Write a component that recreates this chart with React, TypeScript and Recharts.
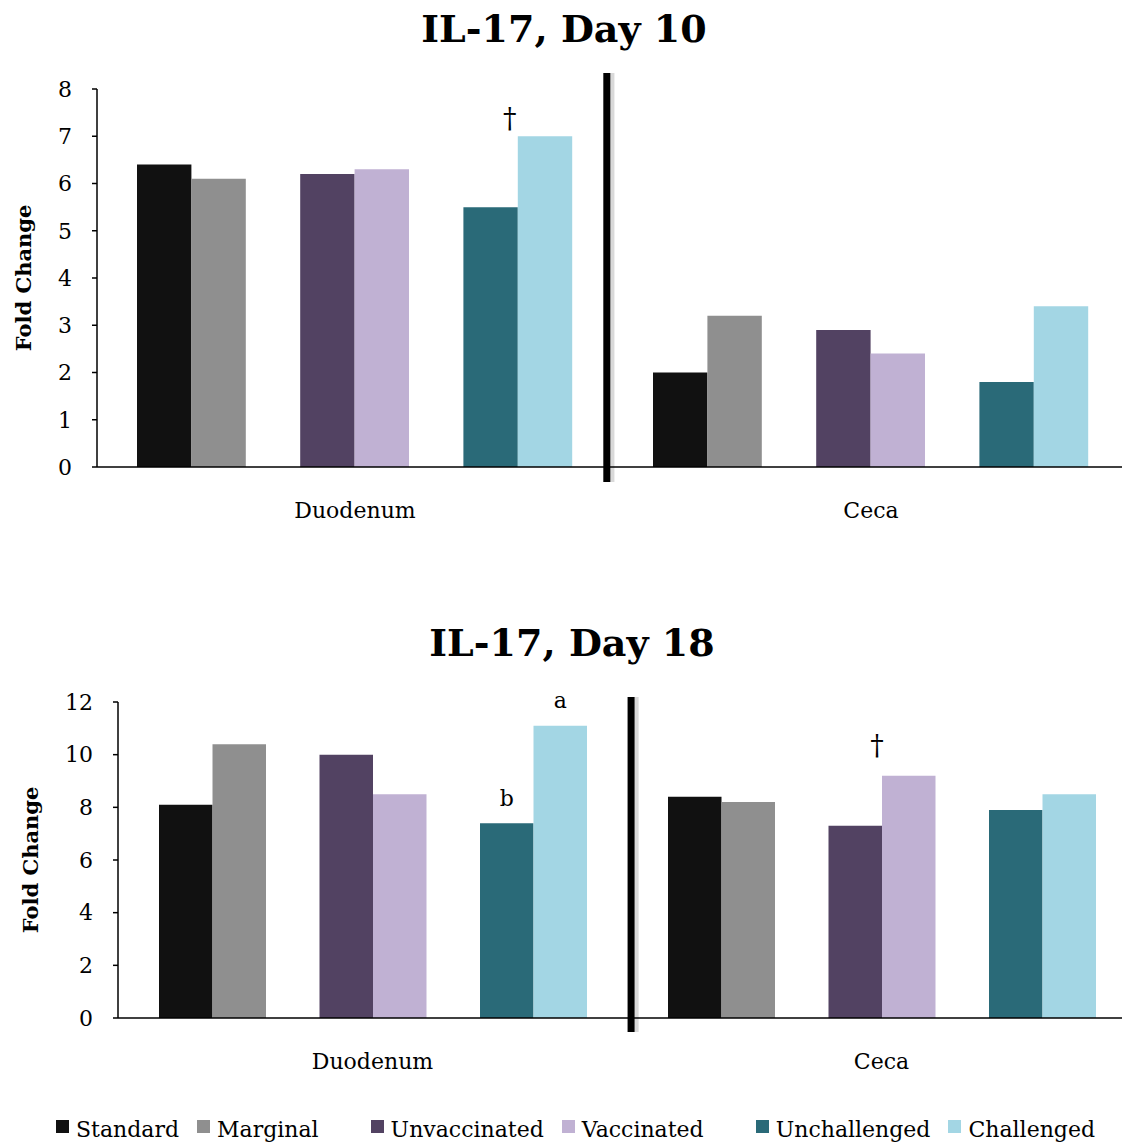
import React from "react";
import { BarChart, Bar, XAxis, YAxis, ReferenceLine, LabelList } from "recharts";

// ── data ─────────────────────────────────────────────────────

const categories = ["Duodenum", "Ceca"];
const seriesNames = ["Standard", "Marginal", "Unvaccinated", "Vaccinated", "Unchallenged", "Challenged"];

const day10Duodenum = [6.4, 6.1, 6.2, 6.3, 5.5, 7.0];
const day10Ceca = [2.0, 3.2, 2.9, 2.4, 1.8, 3.4];
const day18Duodenum = [8.1, 10.4, 10.0, 8.5, 7.4, 11.1];
const day18Ceca = [8.4, 8.2, 7.3, 9.2, 7.9, 8.5];

const day10Ticks = [0, 1, 2, 3, 4, 5, 6, 7, 8];
const day18Ticks = [0, 2, 4, 6, 8, 10, 12];

const day10Marks = [{ category: "Duodenum", series: "Challenged", text: "†" }];
const day18Marks = [
  { category: "Duodenum", series: "Unchallenged", text: "b" },
  { category: "Duodenum", series: "Challenged", text: "a" },
  { category: "Ceca", series: "Vaccinated", text: "†" },
];

// ── styles ───────────────────────────────────────────────────

const COLORS = ["#111111", "#8f8f8f", "#524262", "#c0b1d3", "#2a6a78", "#a3d6e4"];
const FONT = "'DejaVu Serif', serif";
// bar slots: pairs separated by an empty slot
const SLOTS = ["Standard", "Marginal", null, "Unvaccinated", "Vaccinated", null, "Unchallenged", "Challenged"];

function buildRows(values: number[][], marks: { category: string; series: string; text: string }[]) {
  return categories.map((c, i) => {
    const row: Record<string, any> = { name: c };
    seriesNames.forEach((s, j) => (row[s] = values[i][j]));
    marks.filter(m => m.category === c).forEach(m => (row[m.series + "Mark"] = m.text));
    return row;
  });
}

function CatTick({ x, y, payload }: any) {
  return (
    <text x={x} y={Number(y) + 51} textAnchor="middle" fontFamily={FONT} fontSize={22} fill="#000">
      {payload.value}
    </text>
  );
}

interface PanelProps {
  rows: Record<string, any>[];
  ticks: number[];
  top: number;
  width: number;
  height: number;
  margin: { top: number; right: number; bottom: number; left: number };
  barSize: number;
  splitX: number;
  splitY: [number, number];
  daggerDx: number;
  daggerDy: number;
  titleGap: number;
}

function Panel({ rows, ticks, top, width, height, margin, barSize, splitX, splitY, daggerDx, daggerDy, titleGap }: PanelProps) {
  const max = ticks[ticks.length - 1];

  const renderMark = (props: any) => {
    const { x, y, width: w, value } = props;
    if (!value) return null;
    const dagger = value === "†";
    const cx = dagger ? Number(x) + daggerDx : Number(x) + Number(w) / 2;
    const cy = dagger ? Number(y) + daggerDy : Number(y) - 25;
    return (
      <text
        x={cx}
        y={cy}
        textAnchor="middle"
        dominantBaseline="central"
        fontFamily={FONT}
        fontSize={dagger ? 27 : 22}
        fill="#000"
      >
        {value}
      </text>
    );
  };

  const renderAxisLabel = (props: any) => {
    const vb = props.viewBox || {};
    const cx = vb.x + vb.width - titleGap;
    const cy = vb.y + vb.height / 2;
    return (
      <text
        x={cx}
        y={cy}
        transform={`rotate(-90 ${cx} ${cy})`}
        textAnchor="middle"
        dominantBaseline="central"
        fontFamily={FONT}
        fontWeight="bold"
        fontSize={21}
        fill="#000"
      >
        Fold Change
      </text>
    );
  };

  return (
    <div style={{ position: "absolute", left: 0, top }}>
      <BarChart width={width} height={height} data={rows} margin={margin} barGap={0} barSize={barSize}>
        <XAxis
          dataKey="name"
          height={40}
          interval={0}
          tickLine={false}
          tickSize={0}
          tickMargin={0}
          axisLine={{ stroke: "#000", strokeWidth: 1.5 }}
          tick={<CatTick />}
        />
        <XAxis xAxisId="split" type="number" domain={[0, 1]} allowDataOverflow hide />
        <YAxis
          width={60}
          domain={[0, max]}
          ticks={ticks}
          interval={0}
          tickSize={5}
          tickMargin={20}
          axisLine={{ stroke: "#000", strokeWidth: 1.5 }}
          tickLine={{ stroke: "#000", strokeWidth: 1.5 }}
          tick={{ fill: "#000", fontSize: 22, fontFamily: FONT }}
          label={{ content: renderAxisLabel }}
        />
        {SLOTS.map((s, i) =>
          s === null ? (
            <Bar key={"gap" + i} dataKey={"gap" + i} fill="none" isAnimationActive={false} />
          ) : (
            <Bar key={s} dataKey={s} fill={COLORS[seriesNames.indexOf(s)]} isAnimationActive={false}>
              <LabelList dataKey={s + "Mark"} content={renderMark} />
            </Bar>
          )
        )}
        <ReferenceLine
          xAxisId="split"
          segment={[{ x: splitX + 0.0035, y: splitY[0] }, { x: splitX + 0.0035, y: splitY[1] }]}
          stroke="#000"
          strokeOpacity={0.15}
          strokeWidth={8}
          ifOverflow="visible"
        />
        <ReferenceLine
          xAxisId="split"
          segment={[{ x: splitX, y: splitY[0] }, { x: splitX, y: splitY[1] }]}
          stroke="#000"
          strokeWidth={7}
          ifOverflow="visible"
        />
      </BarChart>
    </div>
  );
}

function Title({ text, cx, top }: { text: string; cx: number; top: number }) {
  return (
    <div
      style={{
        position: "absolute",
        left: cx - 250,
        top,
        width: 500,
        textAlign: "center",
        fontFamily: FONT,
        fontWeight: "bold",
        fontSize: 38,
        lineHeight: "44px",
        color: "#000",
      }}
    >
      {text}
    </div>
  );
}

function Legend() {
  const gaps = [0, 18, 52, 18, 52, 18];
  return (
    <div
      style={{
        position: "absolute",
        left: 56,
        top: 1116,
        display: "flex",
        alignItems: "center",
        fontFamily: FONT,
        fontSize: 22,
        lineHeight: "28px",
        whiteSpace: "nowrap",
        color: "#000",
      }}
    >
      {seriesNames.map((s, i) => (
        <div key={s} style={{ display: "flex", alignItems: "center", marginLeft: gaps[i] }}>
          <span
            style={{
              display: "inline-block",
              width: 13,
              height: 13,
              background: COLORS[i],
              marginRight: 7,
              position: "relative",
              top: -4,
            }}
          />
          <span>{s}</span>
        </div>
      ))}
    </div>
  );
}

export default function App() {
  const day10Rows = buildRows([day10Duodenum, day10Ceca], day10Marks);
  const day18Rows = buildRows([day18Duodenum, day18Ceca], day18Marks);

  return (
    <div
      style={{
        position: "absolute",
        left: 0,
        top: 0,
        width: 1122,
        height: 1143,
        overflow: "hidden",
        background: "#fff",
      }}
    >
      <Title text="IL-17, Day 10" cx={564} top={7} />
      <Panel
        rows={day10Rows}
        ticks={day10Ticks}
        top={0}
        width={1140}
        height={540}
        margin={{ top: 89, right: 11, bottom: 33, left: 37 }}
        barSize={54.4}
        splitX={0.494}
        splitY={[-0.32, 8.34]}
        daggerDx={-8}
        daggerDy={-18}
        titleGap={74}
      />
      <Title text="IL-17, Day 18" cx={572} top={621} />
      <Panel
        rows={day18Rows}
        ticks={day18Ticks}
        top={560}
        width={1150}
        height={583}
        margin={{ top: 142, right: 14, bottom: 85, left: 58 }}
        barSize={53.5}
        splitX={0.504}
        splitY={[-0.53, 12.19]}
        daggerDx={-5}
        daggerDy={-30}
        titleGap={88}
      />
      <Legend />
    </div>
  );
}
